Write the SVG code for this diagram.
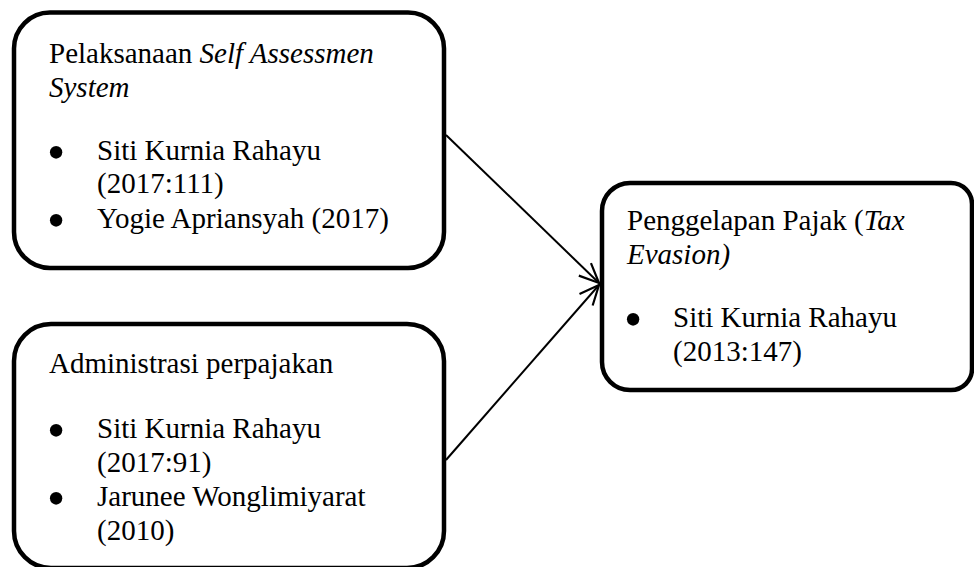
<svg xmlns="http://www.w3.org/2000/svg" width="974" height="567" viewBox="0 0 974 567">
  <style>
    .box { fill: #ffffff; stroke: #000000; stroke-width: 4.5; }
    .conn { fill: none; stroke: #000000; stroke-width: 2; }
    text { font-family: "Liberation Serif", "Times New Roman", serif; font-size: 29px; fill: #000000; }
    .it { font-style: italic; }
    .bul { font-size: 52px; }
  </style>
  <defs>
    <marker id="arrow" markerUnits="userSpaceOnUse" markerWidth="24" markerHeight="24" viewBox="-20 -10 22 20" refX="0" refY="0" orient="auto">
      <path d="M -18 -8 L 0 0 L -18 8" fill="none" stroke="#000000" stroke-width="2"/>
    </marker>
  </defs>
  <rect x="0" y="0" width="974" height="567" fill="#ffffff"/>

  <g id="connectors">
    <line class="conn" x1="446" y1="135" x2="599" y2="283" marker-end="url(#arrow)"/>
    <line class="conn" x1="446" y1="460" x2="599" y2="285" marker-end="url(#arrow)"/>
  </g>

  <g id="node-self-assessment">
    <rect class="box" x="14" y="12.5" width="430" height="255.5" rx="36" ry="36"/>
    <text x="49" y="63">Pelaksanaan <tspan class="it">Self Assessmen</tspan></text>
    <text x="49" y="97" class="it">System</text>
    <text class="bul" x="47" y="170">•</text>
    <text x="97" y="160">Siti Kurnia Rahayu</text>
    <text x="97" y="193">(2017:111)</text>
    <text class="bul" x="47" y="238">•</text>
    <text x="97" y="228">Yogie Apriansyah (2017)</text>
  </g>

  <g id="node-administrasi">
    <rect class="box" x="14" y="324" width="430" height="244" rx="37" ry="37"/>
    <text x="49" y="373">Administrasi perpajakan</text>
    <text class="bul" x="47" y="448">•</text>
    <text x="97" y="438">Siti Kurnia Rahayu</text>
    <text x="97" y="472">(2017:91)</text>
    <text class="bul" x="47" y="516">•</text>
    <text x="97" y="506">Jarunee Wonglimiyarat</text>
    <text x="97" y="540">(2010)</text>
  </g>

  <g id="node-tax-evasion">
    <path class="box" d="M 630 183 L 951 183 A 21 21 0 0 1 972 204 L 972 369 A 21 21 0 0 1 951 390 L 630 390 A 28 28 0 0 1 602 362 L 602 211 A 28 28 0 0 1 630 183 Z"/>
    <text x="627" y="230">Penggelapan Pajak (<tspan class="it">Tax</tspan></text>
    <text x="627" y="264" class="it">Evasion)</text>
    <text class="bul" x="624" y="337">•</text>
    <text x="673" y="327">Siti Kurnia Rahayu</text>
    <text x="673" y="361">(2013:147)</text>
  </g>
</svg>
